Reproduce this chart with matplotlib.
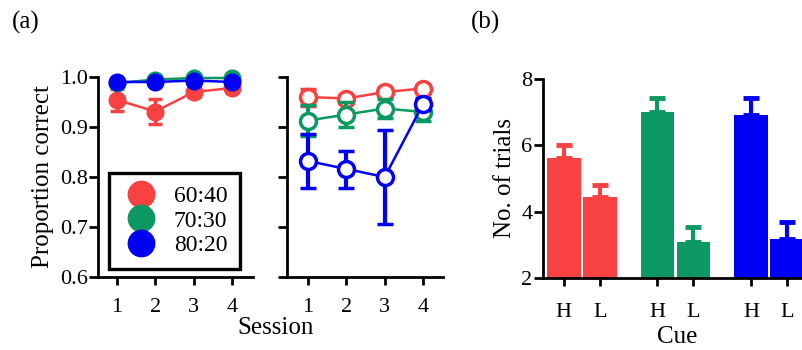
import numpy as np
import matplotlib
matplotlib.use("Agg")
import matplotlib.pyplot as plt
from matplotlib.lines import Line2D

plt.rcParams['font.family'] = ['Liberation Serif', 'DejaVu Serif']

# ===============================
# Datos
# ===============================
sessions = [1, 2, 3, 4]
ratios = ["60:40", "70:30", "80:20"]
colors = ["#F84242", "#0C9862", "#0000F4"]

# Panel (a) izquierda: marcadores llenos
prop_left = [
    [0.954, 0.931, 0.970, 0.978],   # 60:40
    [0.988, 0.995, 0.998, 0.998],   # 70:30
    [0.990, 0.990, 0.993, 0.990],   # 80:20
]
err_left = [
    [0.022, 0.025, 0.010, 0.008],
    [0.004, 0.003, 0.002, 0.002],
    [0.003, 0.003, 0.003, 0.003],
]

# Panel (a) derecha: marcadores vacíos
prop_right = [
    [0.960, 0.957, 0.970, 0.977],
    [0.913, 0.925, 0.937, 0.930],
    [0.832, 0.816, 0.800, 0.946],
]
err_right = [
    [0.017, 0.008, 0.008, 0.008],
    [0.030, 0.025, 0.018, 0.017],
    [0.054, 0.037, 0.095, 0.012],
]

# Panel (b): barras
cue_labels = ["H", "L", "H", "L", "H", "L"]
n_trials = [5.62, 4.44, 6.99, 3.08, 6.91, 3.17]
n_err = [0.40, 0.36, 0.43, 0.46, 0.52, 0.51]
bar_colors = [colors[0], colors[0], colors[1], colors[1], colors[2], colors[2]]
bar_x = [0, 1, 2.6, 3.6, 5.2, 6.2]

# ===============================
# Figura
# ===============================
W, H = 8.03, 3.5
fig = plt.figure(figsize=(W, H), dpi=100)

ax1 = fig.add_axes([98 / 803, 73 / 350, 155 / 803, 200 / 350])
ax2 = fig.add_axes([287 / 803, 73 / 350, 156 / 803, 200 / 350])
ax3 = fig.add_axes([543 / 803, 72 / 350, 262 / 803, 199 / 350])

lw_spine = 2.0
tick_fs = 16
label_fs = 18


def style_axes(ax):
    for s in ["top", "right"]:
        ax.spines[s].set_visible(False)
    for s in ["left", "bottom"]:
        ax.spines[s].set_linewidth(lw_spine)
    ax.tick_params(direction="out", length=6.5, width=2.0, labelsize=tick_fs, pad=1)
    ax.tick_params(axis="x", length=6, pad=9)


for ax in [ax1, ax2]:
    style_axes(ax)
    ax.set_ylim(0.6, 1.0)
    ax.set_yticks([0.6, 0.7, 0.8, 0.9, 1.0])
    ax.set_xticks(sessions)

ax1.set_xlim(0.5, 4.55)
ax2.set_xlim(0.45, 4.52)
ax1.set_yticklabels(["0.6", "0.7", "0.8", "0.9", "1.0"])
ax2.set_yticklabels([])

for i in range(3):
    ax1.errorbar(sessions, prop_left[i], yerr=err_left[i], color=colors[i],
                 marker="o", ms=12, lw=1.8, elinewidth=2.5, capsize=5, capthick=2.5,
                 clip_on=False, zorder=3 + i)
    ax2.errorbar(sessions, prop_right[i], yerr=err_right[i], color=colors[i],
                 marker="o", ms=11.5, mfc="white", mew=2.5, lw=1.8,
                 elinewidth=3, capsize=6, capthick=3, clip_on=False, zorder=3 + i)

ax1.set_ylabel("Proportion correct", fontsize=label_fs, labelpad=4)
fig.text(276 / 803, 1 - 328 / 350, "Session", fontsize=label_fs, ha="center", va="center")

handles = [Line2D([], [], color=c, marker="o", ls="none", ms=19) for c in colors]
leg = ax1.legend(handles, ratios, loc="lower left", bbox_to_anchor=(0.07, 0.04),
                 borderaxespad=0, fontsize=17, frameon=True, fancybox=False,
                 framealpha=1, edgecolor="black", handletextpad=0.6, borderpad=0.55,
                 labelspacing=0.12, handlelength=1.6)
leg.get_frame().set_linewidth(2.4)

# Panel (b)
style_axes(ax3)
ax3.bar(bar_x, [v - 2 for v in n_trials], bottom=2, width=0.94, color=bar_colors, zorder=2)
for x, v, e, c in zip(bar_x, n_trials, n_err, bar_colors):
    ax3.errorbar(x, v, yerr=[[0], [e]], color=c, elinewidth=3, capsize=6,
                 capthick=3.5, zorder=1)
ax3.set_ylim(2, 8)
ax3.set_yticks([2, 4, 6, 8])
ax3.set_xlim(-0.58, 6.7)
ax3.set_xticks(bar_x)
ax3.set_xticklabels(cue_labels)
ax3.tick_params(axis="x", pad=12)
ax3.set_ylabel("No. of trials", fontsize=label_fs, labelpad=4)
fig.text(677 / 803, 1 - 337 / 350, "Cue", fontsize=label_fs, ha="center", va="center")

fig.text(12 / 803, 1 - 22 / 350, "(a)", fontsize=label_fs, va="center")
fig.text(471 / 803, 1 - 22 / 350, "(b)", fontsize=label_fs, va="center")

plt.savefig("out.png", dpi=100)
